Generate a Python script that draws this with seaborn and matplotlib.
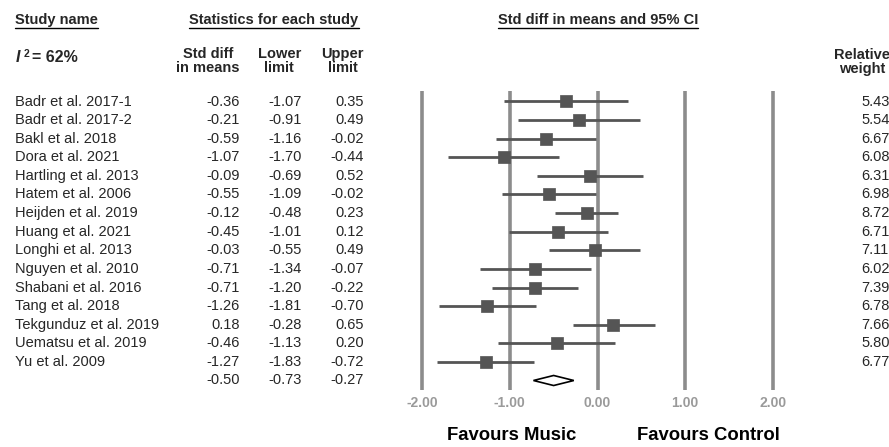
import matplotlib
matplotlib.use("Agg")
import matplotlib.pyplot as plt
import seaborn as sns
import pandas as pd
import numpy as np
from matplotlib.patches import Polygon

sns.set_theme(style="white")
plt.rcParams['font.family'] = ['Liberation Sans', 'DejaVu Sans']

studies = ["Badr et al. 2017-1", "Badr et al. 2017-2", "Bakl et al. 2018", "Dora et al. 2021",
           "Hartling et al. 2013", "Hatem et al. 2006", "Heijden et al. 2019", "Huang et al. 2021",
           "Longhi et al. 2013", "Nguyen et al. 2010", "Shabani et al. 2016", "Tang et al. 2018",
           "Tekgunduz et al. 2019", "Uematsu et al. 2019", "Yu et al. 2009"]
smd = [-0.36, -0.21, -0.59, -1.07, -0.09, -0.55, -0.12, -0.45, -0.03, -0.71, -0.71, -1.26, 0.18, -0.46, -1.27]
lower = [-1.07, -0.91, -1.16, -1.70, -0.69, -1.09, -0.48, -1.01, -0.55, -1.34, -1.20, -1.81, -0.28, -1.13, -1.83]
upper = [0.35, 0.49, -0.02, -0.44, 0.52, -0.02, 0.23, 0.12, 0.49, -0.07, -0.22, -0.70, 0.65, 0.20, -0.72]
weights = [5.43, 5.54, 6.67, 6.08, 6.31, 6.98, 8.72, 6.71, 7.11, 6.02, 7.39, 6.78, 7.66, 5.80, 6.77]
summary = [-0.50, -0.73, -0.27]
xticks = [-2.0, -1.0, 0.0, 1.0, 2.0]

W, H = 889, 447
fig = plt.figure(figsize=(W / 100, H / 100), dpi=100)

def fx(x):
    return x / W

def fy(y):
    return 1 - y / H

ROW0, DROW = 101.5, 18.6
def rowy(i):
    return ROW0 + i * DROW

# forest axes
ax_l, ax_r, ax_t, ax_b = 400, 800, 85, 395
ax = fig.add_axes([fx(ax_l), fy(ax_b), (ax_r - ax_l) / W, (ax_b - ax_t) / H])
unit = (773 - 422) / 4.0
x0px = 422 + 2 * unit  # pixel of 0
ax.set_xlim((ax_l - x0px) / unit, (ax_r - x0px) / unit)
ax.set_ylim((ax_b - ROW0) / DROW, (ax_t - ROW0) / DROW)
ax.axis("off")

# vertical grid lines
vtop = (91 - ROW0) / DROW
vbot = (390 - ROW0) / DROW
ax.vlines(xticks, vtop, vbot, color="#8c8c8c", lw=2.6, zorder=1)

df = pd.DataFrame({"study": studies, "smd": smd, "lower": lower, "upper": upper,
                   "weight": weights, "row": np.arange(len(studies))})
ax.hlines(df["row"], df["lower"], df["upper"], color="#555555", lw=2.0, zorder=2)
sns.scatterplot(data=df, x="smd", y="row", marker="s", s=80, color="#555555",
                edgecolor="#555555", linewidth=0.5, ax=ax, zorder=3, legend=False)

# summary diamond
sr = len(studies)
h = 0.27
diamond = Polygon([[summary[1], sr], [summary[0], sr - h], [summary[2], sr], [summary[0], sr + h]],
                  closed=True, facecolor="white", edgecolor="black", lw=1.2, zorder=4)
ax.add_patch(diamond)

FS = 10.5
# tick labels
for t in xticks:
    fig.text(fx(x0px + t * unit), fy(403), f"{t:.2f}", ha="center", va="center",
             fontsize=10, color="#9a9a9a", fontweight="bold")

fig.text(fx(512), fy(436), "Favours Music", ha="center", va="center", fontsize=13.3, fontweight="bold", color="black")
fig.text(fx(708), fy(436), "Favours Control", ha="center", va="center", fontsize=13.3, fontweight="bold", color="black")

# headers
fig.text(fx(15), fy(20), "Study name", ha="left", va="center", fontsize=FS, fontweight="bold")
fig.text(fx(274), fy(20), "Statistics for each study", ha="center", va="center", fontsize=FS, fontweight="bold")
fig.text(fx(598), fy(20), "Std diff in means and 95% CI", ha="center", va="center", fontsize=FS, fontweight="bold")

fig.text(fx(16), fy(58), "I", ha="left", va="center", fontsize=11.5, fontstyle="italic", fontweight="bold")
fig.text(fx(24), fy(54), "2", ha="left", va="center", fontsize=7.5, fontweight="bold")
fig.text(fx(32), fy(58), "= 62%", ha="left", va="center", fontsize=11.5, fontweight="bold")

fig.text(fx(240), fy(61), "Std diff\nin means", ha="right", va="center", fontsize=FS, fontweight="bold",
         multialignment="center", linespacing=1.0)
fig.text(fx(301), fy(61), "Lower\nlimit", ha="right", va="center", fontsize=FS, fontweight="bold",
         multialignment="center", linespacing=1.0)
fig.text(fx(364), fy(61), "Upper\nlimit", ha="right", va="center", fontsize=FS, fontweight="bold",
         multialignment="center", linespacing=1.0)
fig.text(fx(862), fy(62), "Relative\nweight", ha="center", va="center", fontsize=FS, fontweight="bold",
         multialignment="center", linespacing=1.0)

for i in range(len(studies)):
    y = fy(rowy(i))
    fig.text(fx(15), y, studies[i], ha="left", va="center", fontsize=FS)
    fig.text(fx(240), y, f"{smd[i]:.2f}", ha="right", va="center", fontsize=FS)
    fig.text(fx(302), y, f"{lower[i]:.2f}", ha="right", va="center", fontsize=FS)
    fig.text(fx(364), y, f"{upper[i]:.2f}", ha="right", va="center", fontsize=FS)
    fig.text(fx(861), y, f"{weights[i]:.2f}", ha="left", va="center", fontsize=FS)

ys = fy(rowy(sr))
fig.text(fx(240), ys, f"{summary[0]:.2f}", ha="right", va="center", fontsize=FS)
fig.text(fx(302), ys, f"{summary[1]:.2f}", ha="right", va="center", fontsize=FS)
fig.text(fx(364), ys, f"{summary[2]:.2f}", ha="right", va="center", fontsize=FS)

# underlines for headers
fig.canvas.draw()
r = fig.canvas.get_renderer()
for t in list(fig.texts):
    if t.get_text() in ("Study name", "Statistics for each study", "Std diff in means and 95% CI"):
        bb = t.get_window_extent(renderer=r)
        yline = bb.y0 - 1
        fig.add_artist(plt.Line2D([bb.x0 / W, bb.x1 / W], [yline / H, yline / H], color="black", lw=1.0,
                                  transform=fig.transFigure))

fig.savefig("out.png", dpi=100)
